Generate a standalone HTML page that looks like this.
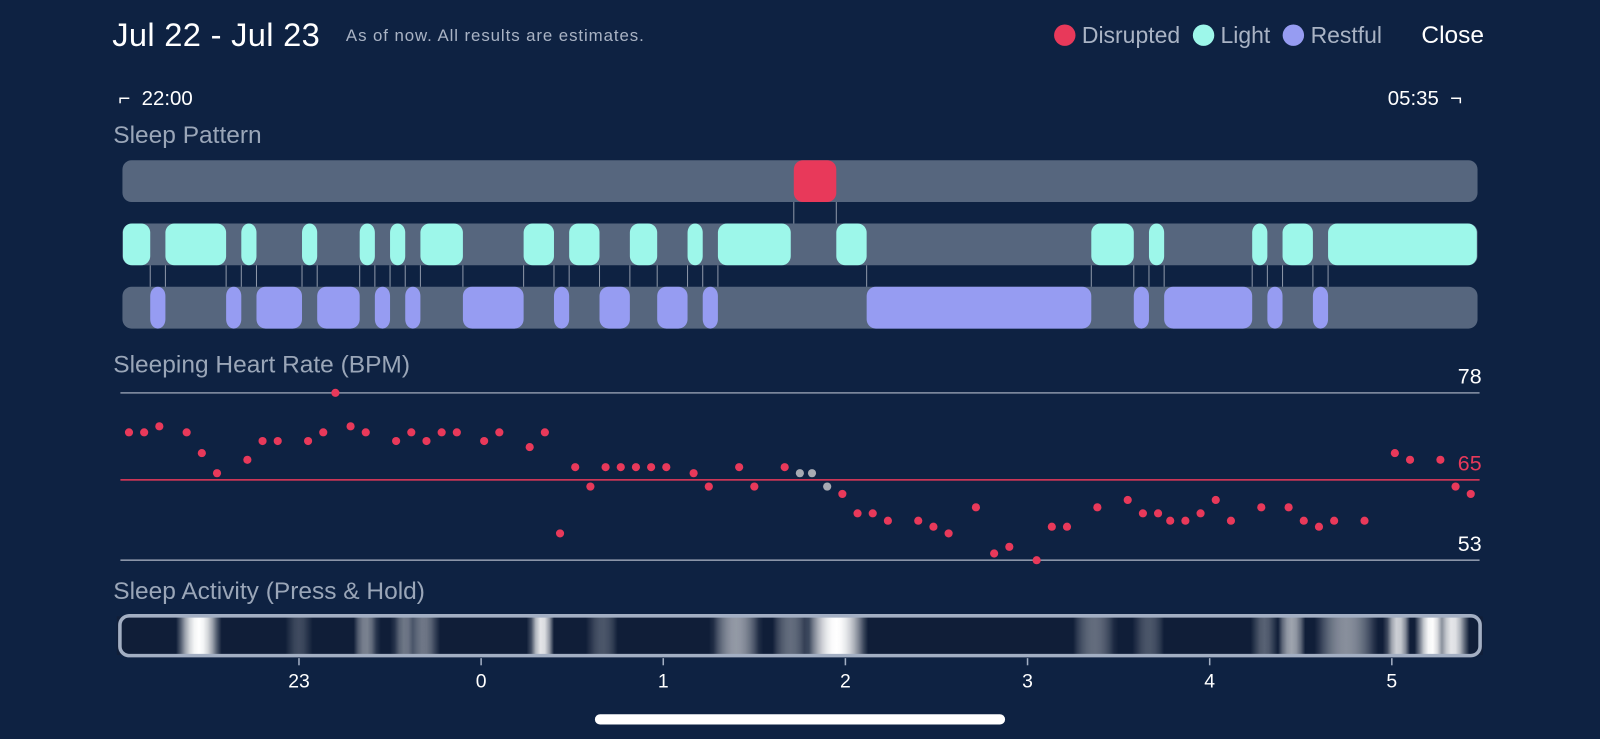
<!DOCTYPE html>
<html><head><meta charset="utf-8">
<style>
body{margin:0;width:1600px;height:739px;background:#0e2242;font-family:"Liberation Sans",sans-serif;overflow:hidden;position:relative}
#wrap{position:absolute;left:0;top:0;width:1568px;height:724px;transform:scale(1.0204);transform-origin:0 0}
.t{position:absolute;white-space:nowrap}
</style></head><body>
<div id="wrap">
<div class="t" style="left:110px;top:16px;font-size:32px;color:#fff;letter-spacing:0.3px">Jul 22 - Jul 23</div>
<div class="t" style="left:339px;top:26px;font-size:16.5px;color:#a9b3c4;letter-spacing:0.9px">As of now. All results are estimates.</div>
<div class="t" style="left:1033px;top:22px;font-size:22.5px;color:#a9b3c4">
<span><span style="display:inline-block;width:21px;height:21px;border-radius:50%;background:#e8395a;vertical-align:-3px"></span> Disrupted</span>
<span style="margin-left:6px"><span style="display:inline-block;width:21px;height:21px;border-radius:50%;background:#9df7ea;vertical-align:-3px"></span> Light</span>
<span style="margin-left:6px"><span style="display:inline-block;width:21px;height:21px;border-radius:50%;background:#969cf2;vertical-align:-3px"></span> Restful</span>
</div>
<div class="t" style="left:1393px;top:21px;font-size:24px;color:#fff">Close</div>
<div class="t" style="left:116px;top:86px;font-size:20px;color:#fff">⌐&nbsp; 22:00</div>
<div class="t" style="left:1360px;top:86px;font-size:20px;color:#fff">05:35 &nbsp;¬</div>
<div class="t" style="left:111px;top:119px;font-size:24px;color:#9aa6b8">Sleep Pattern</div>
<div class="t" style="left:111px;top:344px;font-size:24px;color:#9aa6b8">Sleeping Heart Rate (BPM)</div>
<div class="t" style="left:111px;top:566px;font-size:24px;color:#9aa6b8">Sleep Activity (Press &amp; Hold)</div>
<div style="position:absolute;left:583px;top:700px;width:402px;height:10px;border-radius:5px;background:#fff"></div>
<svg id="chart" width="1568" height="724" style="position:absolute;left:0;top:0"></svg>
</div>
<script>
const disrupted=[[223,237]];
const lightSeg=[[2,11],[16,36],[41,46],[61,66],[80,85],[90,95],[100,114],[134,144],[149,159],[169,178],[188,193],[198,222],[237,247],[321,335],[340,345],[374,379],[384,394],[399,448]];
const restfulSeg=[[11,16],[36,41],[46,61],[66,80],[85,90],[95,100],[114,134],[144,149],[159,169],[178,188],[193,198],[247,321],[335,340],[345,374],[379,384],[394,399]];
const hrMinutes=[4,9,14,23,28,33,43,48,53,63,68,72,77,82,92,97,102,107,112,121,126,136,141,146,151,156,161,166,171,176,181,190,195,205,210,220,225,229,234,239,244,249,254,264,269,274,283,289,294,303,308,313,323,333,338,343,347,352,357,362,367,377,386,391,396,401,411,421,426,436,441,446];
const hrBpm=[72.1,72.1,73,72.1,69,66,68,70.8,70.8,70.8,72.1,78,73,72.1,70.8,72.1,70.8,72.1,72.1,70.8,72.1,69.9,72.1,57,66.9,64,66.9,66.9,66.9,66.9,66.9,66,64,66.9,64,66.9,66,66,64,62.9,60,60,58.9,58.9,58,57,60.9,54,55,53,58,58,60.9,62,60,60,58.9,58.9,60,62,58.9,60.9,60.9,58.9,58,58.9,58.9,69,68,68,64,62.9];
const hrGrey=[36,37,38];
const hrTicks=[78,65,53];
const hourLabels=["23","0","1","2","3","4","5"];
const hourMinutes=[60,120,180,240,300,360,420];
const actCenters=[27,60,82,95,101,140,160,204,222,237,322,340,378,387,405,422,433,440];
const actWidths=[14,8,8,8,10,8,10,16,12,20,14,10,8,9,20,8,10,10];
const actLevel=[1.0,0.2,0.45,0.4,0.4,0.9,0.25,0.55,0.35,1.0,0.35,0.25,0.3,0.6,0.5,0.8,1.0,0.9];

const NS="http://www.w3.org/2000/svg";
const svg=document.getElementById('chart');
const x=m=>114.5+m*2.975;
const y=b=>549-(b-53)*6.56;
function mk(tag,at){const e=document.createElementNS(NS,tag);for(const k in at)e.setAttribute(k,at[k]);svg.appendChild(e);return e;}
const rows=[[157,'#e8395a',disrupted,'disrupted'],[219,'#9df7ea',lightSeg,'light'],[281,'#969cf2',restfulSeg,'restful']];
rows.forEach(r=>{const e=mk('rect',{x:120,y:r[0],width:1328,height:41,rx:9,fill:'#56667e'});

});
function conn(m,y1,y2){const e=mk('line',{x1:x(m),x2:x(m),y1:y1,y2:y2,stroke:'#8d97a8','stroke-width':1});

}
disrupted.forEach(s=>{conn(s[0],198,219);conn(s[1],198,219);});
restfulSeg.forEach(s=>{conn(s[0],260,281);conn(s[1],260,281);});
rows.forEach(r=>{r[2].forEach(s=>{const e=mk('rect',{x:x(s[0]),y:r[0],width:x(s[1])-x(s[0]),height:41,rx:9,fill:r[1]});

});});
hrTicks.forEach((b,i)=>{const red=b===65;
const l=mk('line',{x1:118,x2:1450,y1:y(b),y2:y(b),stroke:red?'#e8395a':'#8a95a8','stroke-width':1.5});


const t=mk('text',{x:1452,y:y(b)-9,'text-anchor':'end','font-size':21,fill:red?'#e8395a':'#fff','font-family':'Liberation Sans'});
t.textContent=b;

});
hrMinutes.forEach((m,i)=>{const c=mk('circle',{cx:x(m),cy:y(hrBpm[i]),r:4,fill:hrGrey.includes(i)?'#a7abb3':'#e8395a'});

});
const defs=mk('defs',{});
const g=document.createElementNS(NS,'linearGradient');g.setAttribute('id','ag');g.setAttribute('x1','0');g.setAttribute('x2','1');defs.appendChild(g);
const N=300,lvl=[];
for(let i=0;i<=N;i++){const m=i/N*450;let v=0.0;actCenters.forEach((c,k)=>{const d=Math.abs(m-c)/(actWidths[k]/2);if(d<1)v=Math.max(v,actLevel[k]*(1-d*d));});lvl.push(v);}
lvl.forEach((v,i)=>{const s=document.createElementNS(NS,'stop');s.setAttribute('offset',i/N);
const r=Math.round(16+v*239),gg=Math.round(30+v*225),b=Math.round(56+v*199);s.setAttribute('stop-color',`rgb(${r},${gg},${b})`);g.appendChild(s);});
const act=mk('rect',{x:x(0),y:604,width:x(450)-x(0),height:38,fill:'url(#ag)'});


const fr=mk('rect',{x:117.5,y:603.5,width:1333,height:39,rx:9,fill:'none',stroke:'#a3afc3','stroke-width':3.5});


hourMinutes.forEach((m,i)=>{const l=mk('line',{x1:x(m),x2:x(m),y1:645,y2:652,stroke:'#a3afc3','stroke-width':1.5});


const t=mk('text',{x:x(m),y:674,'text-anchor':'middle','font-size':19,fill:'#fff','font-family':'Liberation Sans'});
t.textContent=hourLabels[i];

});
</script>
</body></html>
